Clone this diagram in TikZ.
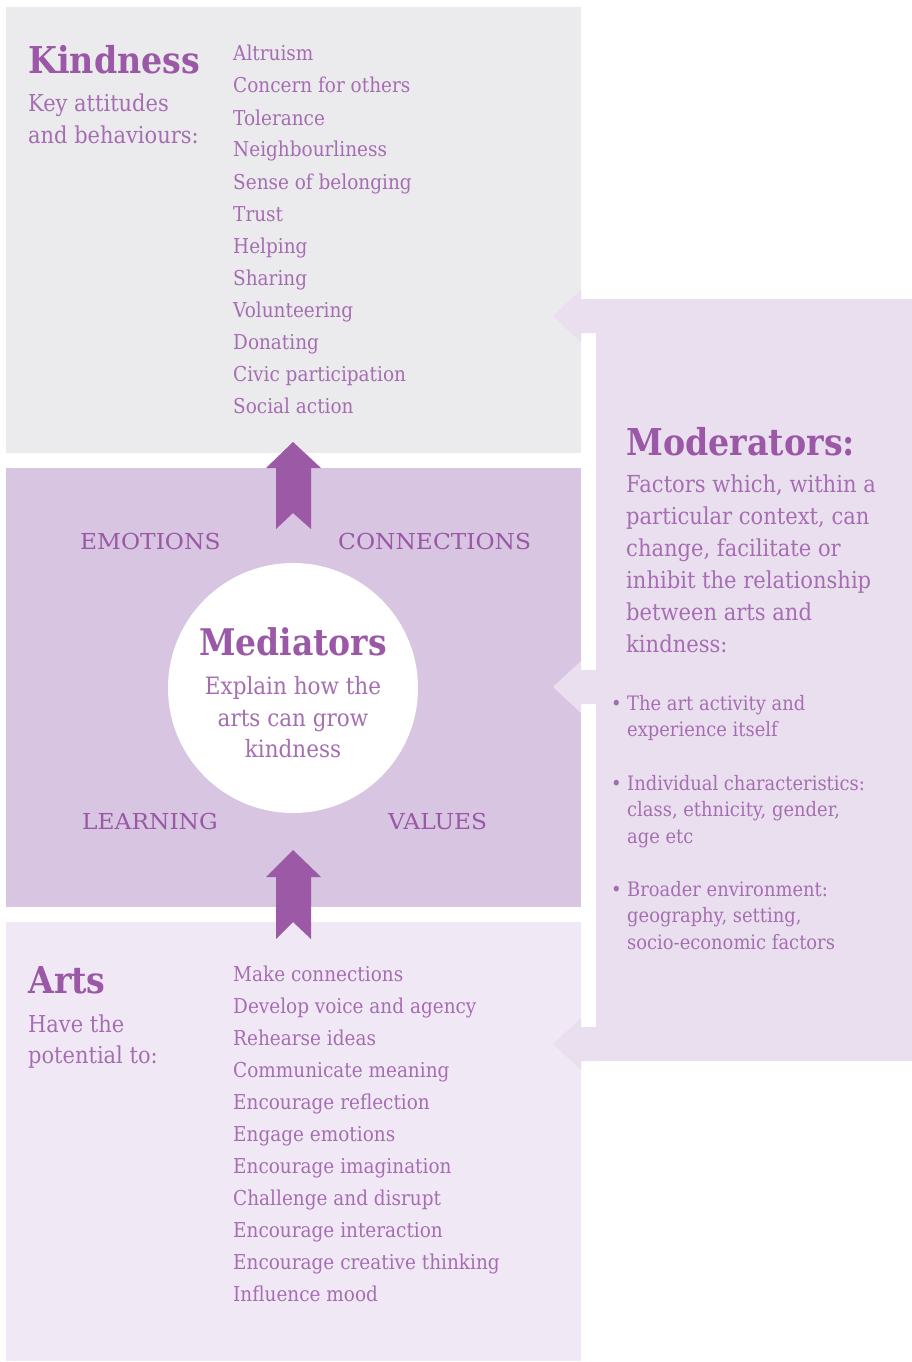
\documentclass[tikz,border=0pt]{standalone}
\usepackage{fontspec}
\setmainfont{DejaVu Serif}[FakeStretch=0.9]
\newfontfamily\capsfont{DejaVu Serif}[FakeStretch=1.06]
\definecolor{kgray}{HTML}{EBEAED}
\definecolor{medbox}{HTML}{D8C5E1}
\definecolor{artbox}{HTML}{F1E8F5}
\definecolor{modbox}{HTML}{EADFEE}
\definecolor{arrowp}{HTML}{9B59A6}
\definecolor{titlep}{HTML}{9A58A6}
\definecolor{textp}{HTML}{A66EB2}
\tikzset{
  item/.style={anchor=base west, inner sep=0pt, text=textp, font=\fontsize{20.5}{24}\selectfont},
  subhead/.style={anchor=base west, inner sep=0pt, text=textp, font=\fontsize{23.3}{26}\selectfont},
  subitem/.style={anchor=base west, inner sep=0pt, text=textp, font=\fontsize{19.9}{23}\selectfont},
  modtext/.style={anchor=base west, inner sep=0pt, text=textp, font=\fontsize{23.4}{27}\selectfont},
  ctext/.style={anchor=base, inner sep=0pt, text=textp, font=\fontsize{23.9}{27}\selectfont},
  bigtitle/.style={anchor=base west, inner sep=0pt, text=titlep, font=\fontsize{37}{41}\selectfont\bfseries},
  capslabel/.style={anchor=base west, inner sep=0pt, text=titlep, font=\capsfont\fontsize{22}{26}\selectfont},
  uparrow/.style={fill=arrowp},
  tab/.style={fill=modbox}
}
\begin{document}
\begin{tikzpicture}[x=1pt,y=-1pt]
\useasboundingbox[fill=white] (0,0) rectangle (912,1362);
% boxes
\fill[kgray] (6,7) rectangle (581,453);
\fill[medbox] (6,468) rectangle (581,907);
\fill[artbox] (6,922) rectangle (581,1361);
\fill[modbox] (596,299) rectangle (912,1061);
% tabs (left-pointing arrows)
\foreach \c in {316,687,1044} {
  \fill[tab] (553,\c) -- (581,\c-26) -- (581,\c-17) -- (597,\c-17) -- (597,\c+17) -- (581,\c+17) -- (581,\c+26) -- cycle;
}
% up arrows
\fill[uparrow] (293,442) -- (321,468) -- (311,468) -- (311,529) -- (293,513) -- (276,529) -- (276,468) -- (266,468) -- cycle;
\fill[uparrow] (293,850) -- (321,877) -- (311,877) -- (311,939) -- (293,922) -- (276,939) -- (276,877) -- (266,877) -- cycle;
% circle
\node[circle, fill=white, minimum size=250pt, inner sep=0pt] (circ) at (293,688) {};
% Kindness
\node[bigtitle] (ktitle) at (28,74) {Kindness};
\node[subhead] (ksub1) at (28,112) {Key attitudes};
\node[subhead] (ksub2) at (28,143) {and behaviours:};
\foreach \t [count=\i from 0] in {Altruism,Concern for others,Tolerance,Neighbourliness,Sense of belonging,Trust,Helping,Sharing,Volunteering,Donating,Civic participation,Social action}
  \node[item] (k\i) at (233,61+32*\i) {\t};
% Mediators
\node[anchor=base, inner sep=0pt, text=titlep, font=\fontsize{36.7}{40}\selectfont\bfseries] (mtitle) at (293,655) {Mediators};
\node[ctext] (m1) at (293,694) {Explain how the};
\node[ctext] (m2) at (293,726) {arts can grow};
\node[ctext] (m3) at (293,757) {kindness};
\node[capslabel] (emo) at (80,549) {EMOTIONS};
\node[capslabel] (con) at (338,549) {CONNECTIONS};
\node[capslabel] (lea) at (82,829) {LEARNING};
\node[capslabel] (val) at (388,829) {VALUES};
% Arts
\node[bigtitle] (atitle) at (28,993) {Arts};
\node[subhead] (asub1) at (28,1032) {Have the};
\node[subhead] (asub2) at (28,1063) {potential to:};
\foreach \t [count=\i from 0] in {Make connections,Develop voice and agency,Rehearse ideas,Communicate meaning,Encourage reflection,Engage emotions,Encourage imagination,Challenge and disrupt,Encourage interaction,Encourage creative thinking,Influence mood}
  \node[item] (a\i) at (233,981+32*\i) {\t};
% Moderators
\node[bigtitle] (modtitle) at (626,455) {Moderators:};
\foreach \t [count=\i from 0] in {{Factors which, within a},{particular context, can},{change, facilitate or},{inhibit the relationship},{between arts and},{kindness:}}
  \node[modtext] (md\i) at (626,492+32*\i) {\t};
\node[subitem, anchor=base east] (b1) at (622,710) {•};
\node[subitem] (b1a) at (627,710) {The art activity and};
\node[subitem] (b1b) at (627,736) {experience itself};
\node[subitem, anchor=base east] (b2) at (622,790) {•};
\node[subitem] (b2a) at (627,790) {Individual characteristics:};
\node[subitem] (b2b) at (627,816) {class, ethnicity, gender,};
\node[subitem] (b2c) at (627,843) {age etc};
\node[subitem, anchor=base east] (b3) at (622,896) {•};
\node[subitem] (b3a) at (627,896) {Broader environment:};
\node[subitem] (b3b) at (627,922) {geography, setting,};
\node[subitem] (b3c) at (627,949) {socio-economic factors};
\end{tikzpicture}
\end{document}
